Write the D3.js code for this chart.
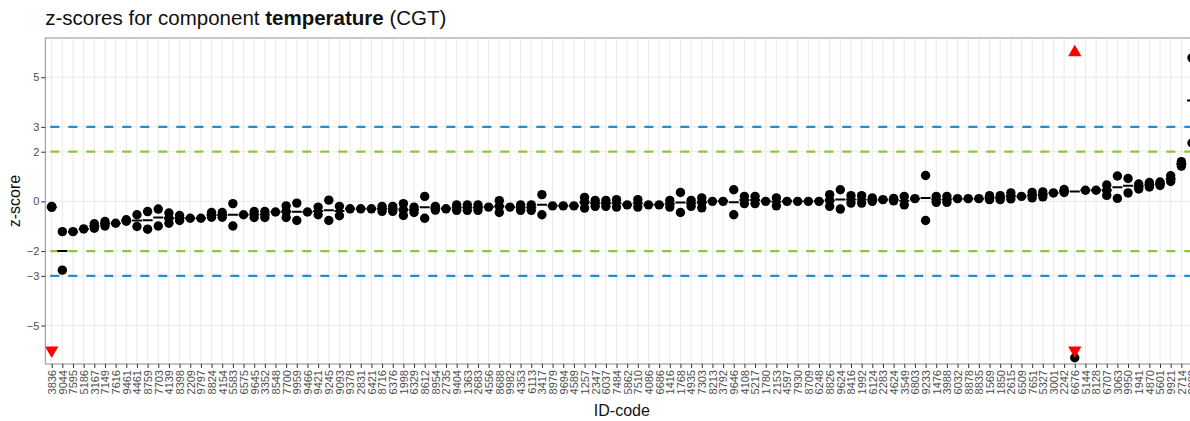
<!DOCTYPE html>
<html>
<head>
<meta charset="utf-8">
<script src="https://cdn.jsdelivr.net/npm/d3@7"></script>
<style>
  body { margin: 0; background: #fff; }
  svg { display: block; font-family: "Liberation Sans", Arial, sans-serif; }
  .axis text { fill: #4d4d4d; font-size: 11px; }
  .axis .tick line { stroke: #333; }
  .axis .domain { display: none; }
</style>
</head>
<body>
<svg id="chart"></svg>
<script>
// ID codes along the x-axis (sorted by median z-score)
const idCodes = [
  '3836','9044','7595','5186','3167','7149','7616','9461','4461','8759',
  '7703','4139','8398','2209','9797','8824','4154','5583','6575','9645',
  '3352','8548','7700','9959','9466','9421','9245','9093','9378','2831',
  '6421','8716','6376','1998','6329','8612','8954','2735','9404','1363',
  '2683','4556','8688','9982','4353','6113','3417','8979','9694','4589',
  '1257','2347','6037','7484','5862','7510','4086','6686','1416','1768',
  '4935','7303','8213','3792','9646','4108','5217','1780','2153','4597',
  '7930','8709','6248','8826','9624','8416','1992','6124','2283','4624',
  '3549','6803','9233','1476','3988','6032','8878','8835','1569','1850',
  '2615','6509','7651','5327','3001','2242','6676','5144','8128','6707',
  '3063','9950','1941','4870','5601','9921','2714','2289'
];

// z-scores of every result for each ID code
const zValues = [
  [-0.2, -0.24, -8.0], [-1.22, -2.77], [-1.22], [-1.11], [-0.9, -1.08],
  [-0.81, -0.99], [-0.88], [-0.74, -0.8], [-0.54, -1.01], [-0.41, -1.12],
  [-0.31, -0.99], [-0.47, -0.68, -0.88], [-0.57, -0.77], [-0.68], [-0.68],
  [-0.45, -0.64], [-0.45, -0.64], [-0.09, -0.99], [-0.54], [-0.41, -0.65],
  [-0.41, -0.65], [-0.43], [-0.18, -0.41, -0.65], [-0.07, -0.77], [-0.43],
  [-0.23, -0.54], [0.05, -0.77], [-0.2, -0.58], [-0.3], [-0.3],
  [-0.3], [-0.2, -0.4], [-0.2, -0.4], [-0.09, -0.34, -0.57], [-0.23, -0.45],
  [0.2, -0.68], [-0.2, -0.35], [-0.3], [-0.14, -0.36], [-0.14, -0.36],
  [-0.14, -0.36], [-0.23], [0.03, -0.2, -0.45], [-0.23], [-0.14, -0.36],
  [-0.14, -0.36], [0.27, -0.54], [-0.18], [-0.18], [-0.18],
  [0.16, -0.04, -0.27], [0.04, -0.2], [0.04, -0.2], [0.07, -0.23], [-0.14],
  [0.07, -0.23], [-0.14], [-0.14], [0.04, -0.23], [0.36, -0.45],
  [0.04, -0.2], [0.14, -0.04, -0.26], [0], [0], [0.47, -0.54],
  [0.2, -0.09], [0.2, -0.09], [0], [0.14, -0.18], [0],
  [0], [0], [0], [0.27, 0.04, -0.2], [0.47, -0.31],
  [0.23, -0.07], [0.23, -0.07], [0.14, 0.0], [0.07], [0.12, 0.02],
  [0.2, -0.14], [0.11], [1.04, -0.77], [0.2, -0.04], [0.2, -0.04],
  [0.11], [0.11], [0.11], [0.23, 0.07], [0.23, 0.07],
  [0.34, 0.1], [0.2], [0.36, 0.14], [0.38, 0.18], [0.34],
  [0.48, 0.36], [7.1, -6.3], [0.45], [0.45], [0.66, 0.45, 0.24],
  [1.02, 0.12], [0.92, 0.34], [0.7, 0.5], [0.76, 0.58], [0.78, 0.64],
  [1.03, 0.8], [1.6, 1.42], [5.78, 2.35]
];

const yTicks = [-5, -3, -2, 0, 2, 3, 5];
const warningLimits = [-2, 2];
const actionLimits = [-3, 3];
const flagLimit = 6;

class ZScorePlot {

    constructor(_config, _ids, _values) {
        this.config = {
            parentElement: _config.parentElement,
            containerWidth: _config.containerWidth || 1190,
            containerHeight: _config.containerHeight || 421,
            margin: _config.margin || {top: 38, right: -8.4, bottom: 57, left: 45.3},
        }
        this.ids = _ids;
        this.values = _values;
        this.initVis();
    }

    initVis() {
        let vis = this;

        vis.width = vis.config.containerWidth - vis.config.margin.left - vis.config.margin.right;
        vis.height = vis.config.containerHeight - vis.config.margin.top - vis.config.margin.bottom;

        vis.xScale = d3.scalePoint()
            .range([0, vis.width])
            .padding(0.6);

        vis.yScale = d3.scaleLinear()
            .domain([-6.55, 6.58])
            .range([vis.height, 0]);

        vis.xAxis = d3.axisBottom(vis.xScale)
            .tickSize(4)
            .tickSizeOuter(0);

        vis.yAxis = d3.axisLeft(vis.yScale)
            .tickValues(yTicks)
            .tickFormat(d3.format('d'))
            .tickSize(4)
            .tickSizeOuter(0);

        vis.svg = d3.select(vis.config.parentElement)
            .attr('width', vis.config.containerWidth)
            .attr('height', vis.config.containerHeight);

        vis.svg.append('defs').append('clipPath')
            .attr('id', 'panel-clip')
          .append('rect')
            .attr('width', vis.width)
            .attr('height', vis.height);

        vis.chart = vis.svg.append('g')
            .attr('transform', `translate(${vis.config.margin.left},${vis.config.margin.top})`);

        vis.gridG = vis.chart.append('g').attr('class', 'grid');
        vis.limitG = vis.chart.append('g').attr('class', 'limits');
        vis.markG = vis.chart.append('g').attr('clip-path', 'url(#panel-clip)');

        vis.chart.append('rect')
            .attr('width', vis.width)
            .attr('height', vis.height)
            .attr('fill', 'none')
            .attr('stroke', '#8f8f8f')
            .attr('stroke-width', 1);

        vis.xAxisG = vis.chart.append('g')
            .attr('class', 'axis x-axis')
            .attr('transform', `translate(0,${vis.height})`);

        vis.yAxisG = vis.chart.append('g')
            .attr('class', 'axis y-axis');

        // Titles
        let title = vis.svg.append('text')
            .attr('x', vis.config.margin.left)
            .attr('y', 25)
            .style('font-size', '20.5px')
            .attr('fill', '#111');
        title.append('tspan').text('z-scores for component ');
        title.append('tspan').style('font-weight', 'bold').text('temperature');
        title.append('tspan').text(' (CGT)');

        vis.svg.append('text')
            .attr('transform', `translate(20,${vis.config.margin.top + vis.height / 2}) rotate(-90)`)
            .attr('text-anchor', 'middle')
            .style('font-size', '16px')
            .attr('fill', '#111')
            .text('z-score');

        vis.svg.append('text')
            .attr('x', vis.config.margin.left + vis.width / 2)
            .attr('y', 416)
            .attr('text-anchor', 'middle')
            .style('font-size', '16px')
            .attr('fill', '#111')
            .text('ID-code');
    }

    updateVis() {
        let vis = this;

        vis.xScale.domain(vis.ids);

        vis.rows = vis.ids.map((id, i) => ({id: id, values: vis.values[i], median: d3.median(vis.values[i])}));
        vis.points = vis.rows.flatMap(r => r.values.map(v => ({id: r.id, value: v})));
        vis.flags = vis.points.filter(p => Math.abs(p.value) > flagLimit);

        vis.renderVis();
    }

    renderVis() {
        let vis = this;

        // Grid lines
        vis.gridG.selectAll('.vgrid')
            .data(vis.ids)
            .join('line')
            .attr('class', 'vgrid')
            .attr('x1', d => vis.xScale(d))
            .attr('x2', d => vis.xScale(d))
            .attr('y1', 0)
            .attr('y2', vis.height)
            .attr('stroke', '#ebebeb')
            .attr('stroke-width', 1.1);

        vis.gridG.selectAll('.hgrid')
            .data(yTicks)
            .join('line')
            .attr('class', 'hgrid')
            .attr('x1', 0)
            .attr('x2', vis.width)
            .attr('y1', d => vis.yScale(d))
            .attr('y2', d => vis.yScale(d))
            .attr('stroke', '#ebebeb')
            .attr('stroke-width', 1.1);

        // Warning and action limits
        const limits = [
            ...warningLimits.map(v => ({value: v, color: '#8cc63f'})),
            ...actionLimits.map(v => ({value: v, color: '#1e8fd5'}))
        ];
        vis.limitG.selectAll('.limit')
            .data(limits)
            .join('line')
            .attr('class', 'limit')
            .attr('x1', 0)
            .attr('x2', vis.width)
            .attr('y1', d => vis.yScale(d.value))
            .attr('y2', d => vis.yScale(d.value))
            .attr('stroke', d => d.color)
            .attr('stroke-width', 2.2)
            .attr('stroke-dasharray', '9,9')
            .attr('stroke-dashoffset', 13);

        // Median dashes
        vis.markG.selectAll('.median')
            .data(vis.rows)
            .join('line')
            .attr('class', 'median')
            .attr('x1', d => vis.xScale(d.id) - 5)
            .attr('x2', d => vis.xScale(d.id) + 5)
            .attr('y1', d => vis.yScale(d.median))
            .attr('y2', d => vis.yScale(d.median))
            .attr('stroke', '#000')
            .attr('stroke-width', 2);

        // Points
        vis.markG.selectAll('.dot')
            .data(vis.points)
            .join('circle')
            .attr('class', 'dot')
            .attr('cx', d => vis.xScale(d.id))
            .attr('cy', d => vis.yScale(d.value))
            .attr('r', 4.7)
            .attr('fill', '#000');

        // Flags for values beyond the limit
        const tri = d3.symbol().type(d3.symbolTriangle).size(78);
        vis.markG.selectAll('.flag')
            .data(vis.flags)
            .join('path')
            .attr('class', 'flag')
            .attr('d', tri)
            .attr('transform', d => {
                let up = d.value > 0;
                let y = vis.yScale(up ? flagLimit : -flagLimit);
                return `translate(${vis.xScale(d.id)},${y}) rotate(${up ? 0 : 180})`;
            })
            .attr('fill', '#ff0000');

        // Axes
        vis.xAxisG.call(vis.xAxis);
        vis.xAxisG.selectAll('.tick text')
            .attr('transform', 'rotate(-90)')
            .attr('x', -6)
            .attr('y', 0)
            .attr('dy', '0.35em')
            .style('text-anchor', 'end');

        vis.yAxisG.call(vis.yAxis);
        vis.yAxisG.selectAll('.tick text').attr('x', -6);
    }
}

const plot = new ZScorePlot({parentElement: '#chart'}, idCodes, zValues);
plot.updateVis();
</script>
</body>
</html>
